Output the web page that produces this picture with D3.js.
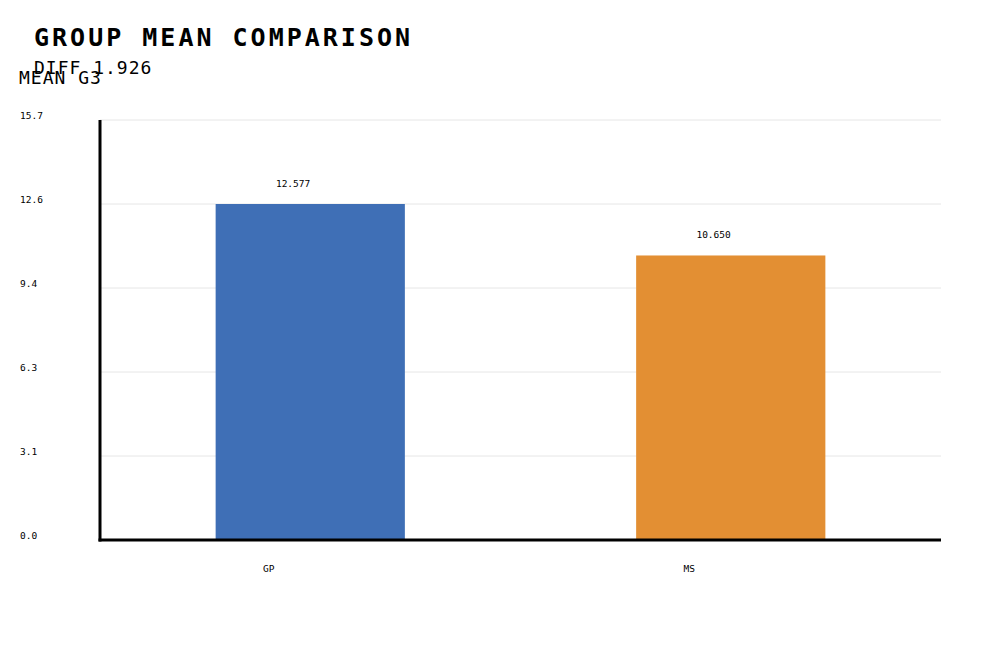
<!DOCTYPE html>
<html>
<head>
<meta charset="utf-8">
<script src="https://cdn.jsdelivr.net/npm/d3@7"></script>
<style>
  body { margin: 0; background: #fff; }
  svg text { font-family: "DejaVu Sans Mono", "Liberation Mono", monospace; fill: #000; }
  .title { font-size: 25px; letter-spacing: 3px; font-weight: bold; }
  .subtitle { font-size: 18px; letter-spacing: 1px; }
  .tick-label, .value-label, .cat-label { font-size: 9.5px; }
  .grid line { stroke: #e6e6e6; stroke-width: 1; }
</style>
</head>
<body>
<script>
(function(){

//chart data
var groups = ["GP", "MS"];          //categories
var means = [12.577, 10.650];       //mean G3 per group
var meanDiff = 1.926;               //difference shown in the subtitle
var barColors = ["#3f6fb6", "#e38f33"];
var titleText = "GROUP MEAN COMPARISON";
var yLabel = "MEAN G3";

//frame
var width = 1000,
    height = 650,
    left = 100,
    right = 941,
    top = 120,
    bottom = 540;

var svg = d3.select("body")
    .append("svg")
    .attr("width", width)
    .attr("height", height);

var yMax = d3.max(means) * 1.25;
var tickVals = d3.range(6).map(function(i){ return yMax * i / 5; });

var yScale = d3.scaleLinear()
    .domain([0, yMax])
    .range([bottom, top]);

var xScale = d3.scaleBand()
    .domain(groups)
    .range([left, right])
    .paddingInner(0.55)
    .paddingOuter(0.275);

//gridlines
svg.append("g")
    .attr("class", "grid")
    .selectAll("line")
    .data(tickVals.slice(1))
    .enter()
    .append("line")
    .attr("x1", left)
    .attr("x2", right)
    .attr("y1", function(d){ return yScale(d); })
    .attr("y2", function(d){ return yScale(d); });

//tick labels
svg.selectAll(".tick-label")
    .data(tickVals)
    .enter()
    .append("text")
    .attr("class", "tick-label")
    .attr("x", 20)
    .attr("y", function(d){ return yScale(d) - 1.5; })
    .text(function(d){ return d3.format(".1f")(d); });

//bars
svg.selectAll(".bar")
    .data(groups)
    .enter()
    .append("rect")
    .attr("class", "bar")
    .attr("x", function(d){ return xScale(d); })
    .attr("width", xScale.bandwidth())
    .attr("y", function(d, i){ return yScale(means[i]); })
    .attr("height", function(d, i){ return bottom - yScale(means[i]); })
    .style("fill", function(d, i){ return barColors[i]; });

//value labels
svg.selectAll(".value-label")
    .data(groups)
    .enter()
    .append("text")
    .attr("class", "value-label")
    .attr("text-anchor", "end")
    .attr("x", function(d){ return xScale(d) + xScale.bandwidth() / 2; })
    .attr("y", function(d, i){ return yScale(means[i]) - 17.5; })
    .text(function(d, i){ return d3.format(".3f")(means[i]); });

//category labels
svg.selectAll(".cat-label")
    .data(groups)
    .enter()
    .append("text")
    .attr("class", "cat-label")
    .attr("x", function(d){ return xScale(d) + xScale.bandwidth() * 0.25; })
    .attr("y", 572)
    .text(function(d){ return d; });

//axes lines
svg.append("line")
    .attr("x1", left).attr("x2", left)
    .attr("y1", top).attr("y2", bottom + 1.5)
    .attr("stroke", "#000").attr("stroke-width", 3);
svg.append("line")
    .attr("x1", left - 1.5).attr("x2", right)
    .attr("y1", bottom).attr("y2", bottom)
    .attr("stroke", "#000").attr("stroke-width", 3);

//titles
svg.append("text")
    .attr("class", "title")
    .attr("x", 34)
    .attr("y", 46)
    .text(titleText);

svg.append("text")
    .attr("class", "subtitle")
    .attr("x", 34)
    .attr("y", 74)
    .text("DIFF " + d3.format(".3f")(meanDiff));

svg.append("text")
    .attr("class", "subtitle")
    .attr("x", 19)
    .attr("y", 84)
    .text(yLabel);

})();
</script>
</body>
</html>
